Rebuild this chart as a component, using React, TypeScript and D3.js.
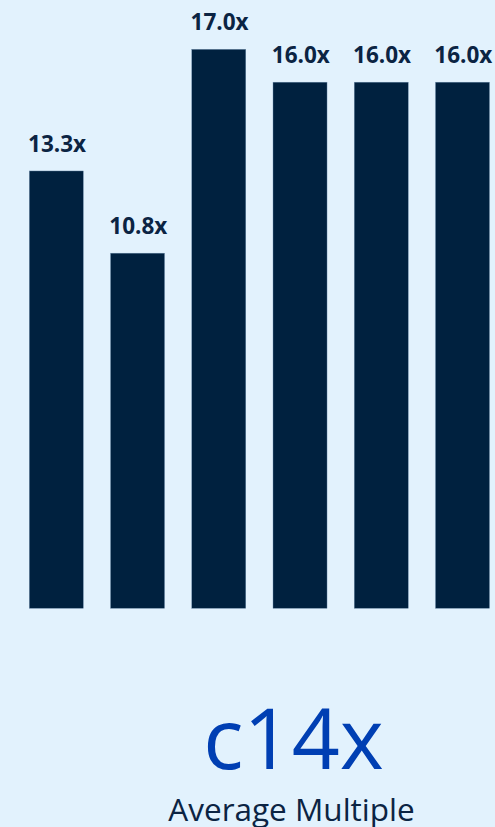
import React from "react";
import * as d3 from "d3";

const categories = ["A", "B", "C", "D", "E", "F"];
const values = [13.3, 10.8, 17.0, 16.0, 16.0, 16.0];
const labels = ["13.3x", "10.8x", "17.0x", "16.0x", "16.0x", "16.0x"];
const headline = "c14x";
const caption = "Average Multiple";

const W = 495;
const H = 827;

export default function App() {
  const x = d3
    .scaleBand<string>()
    .domain(categories)
    .range([29.3, 489.5])
    .paddingInner(0.335)
    .paddingOuter(0);
  const y = d3.scaleLinear().domain([0, 17]).range([608.3, 49.3]);

  return (
    <svg
      width={W}
      height={H}
      style={{ position: "absolute", left: 0, top: 0, display: "block" }}
      fontFamily="'Open Sans', sans-serif"
    >
      <rect x={0} y={0} width={W} height={H} fill="#e2f2fd" />
      {categories.map((c, i) => (
        <g key={c}>
          <rect
            x={x(c)}
            y={y(values[i])}
            width={x.bandwidth()}
            height={y(0) - y(values[i])}
            fill="#00213f"
            stroke="#6f8fae"
            strokeWidth={0.4}
          />
          <text
            x={(x(c) as number) + x.bandwidth() / 2 + 0.8}
            y={y(values[i]) - 19}
            textAnchor="middle"
            fontSize={22.5}
            fontWeight={700}
            fill="#0b2443"
          >
            {labels[i]}
          </text>
        </g>
      ))}
      <text
        x={293.5}
        y={768.5}
        textAnchor="middle"
        fontSize={84}
        fontWeight={400}
        fill="#003fb3"
      >
        {headline}
      </text>
      <text
        x={291.5}
        y={820.5}
        textAnchor="middle"
        fontSize={31.5}
        fontWeight={400}
        fill="#0b2443"
      >
        {caption}
      </text>
    </svg>
  );
}
